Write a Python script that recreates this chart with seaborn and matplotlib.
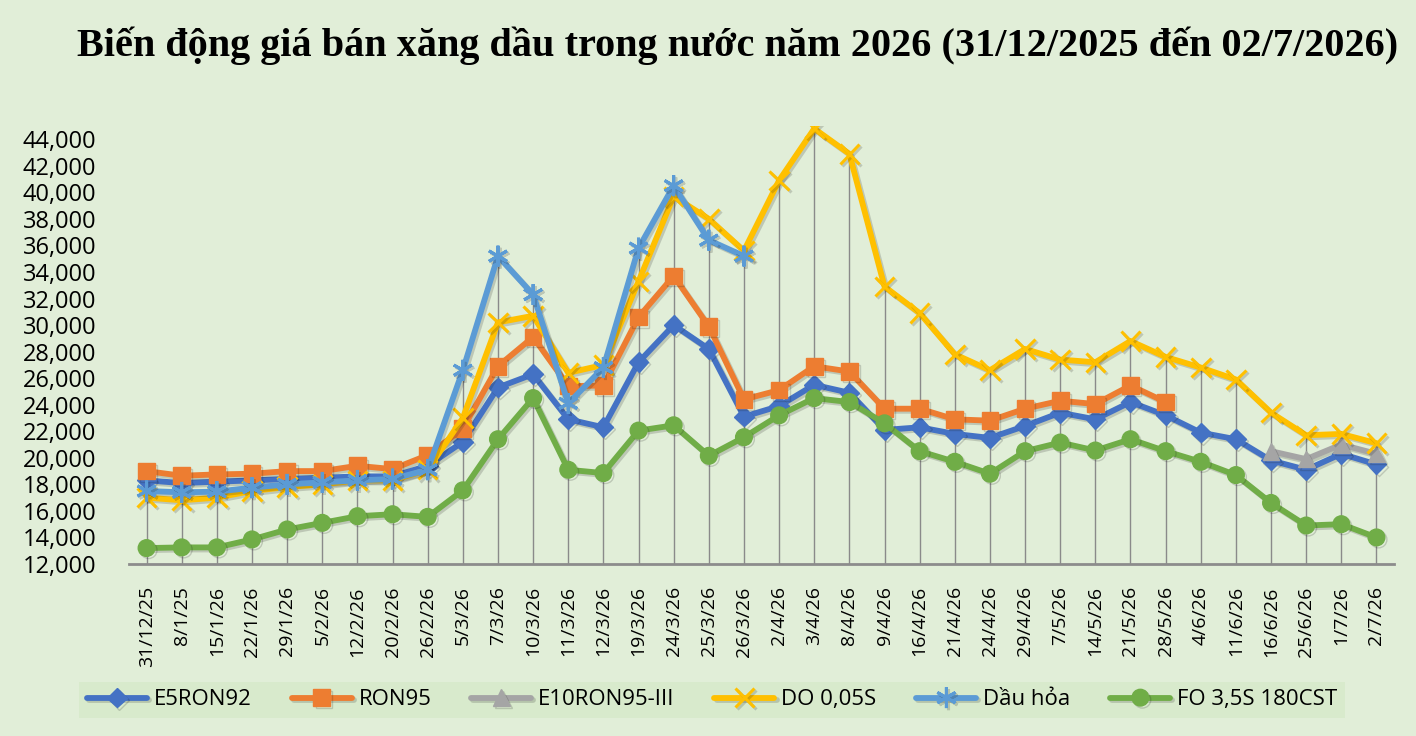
import numpy as np
import pandas as pd
import matplotlib
matplotlib.use("Agg")
import matplotlib.pyplot as plt
import matplotlib.patheffects as pe
import seaborn as sns

# Data (VND / litre)
dates = ["31/12/25", "8/1/25", "15/1/26", "22/1/26", "29/1/26", "5/2/26", "12/2/26",
         "20/2/26", "26/2/26", "5/3/26", "7/3/26", "10/3/26", "11/3/26", "12/3/26",
         "19/3/26", "24/3/26", "25/3/26", "26/3/26", "2/4/26", "3/4/26", "8/4/26",
         "9/4/26", "16/4/26", "21/4/26", "24/4/26", "29/4/26", "7/5/26", "14/5/26",
         "21/5/26", "28/5/26", "4/6/26", "11/6/26", "16/6/26", "25/6/26", "1/7/26", "2/7/26"]

e5ron92 = [18300, 18100, 18200, 18300, 18400, 18500, 18600, 18600, 19400, 21200,
           25300, 26300, 22900, 22300, 27200, 30000, 28200, 23100, 23900, 25500,
           24900, 22100, 22300, 21800, 21500, 22400, 23400, 22900, 24200, 23200,
           21900, 21400, 19800, 19100, 20300, 19500]
ron95 = [19000, 18650, 18750, 18800, 19000, 19000, 19400, 19150, 20200, 22200,
         26900, 29100, 25400, 25450, 30600, 33700, 29900, 24400, 25100, 26900,
         26500, 23700, 23700, 22900, 22800, 23700, 24300, 24050, 25450, 24200,
         np.nan, np.nan, np.nan, np.nan, np.nan, np.nan]
e10ron95 = [np.nan] * 32 + [20500, 19900, 21000, 20300]
do005s = [17000, 16800, 17000, 17500, 17800, 18000, 18300, 18300, 19100, 23000,
          30200, 30700, 26400, 27000, 33300, 39700, 38000, 35600, 40900, 44800,
          42900, 32900, 30900, 27800, 26600, 28200, 27400, 27200, 28800, 27600,
          26800, 25900, 23400, 21700, 21800, 21100]
dau_hoa = [17500, 17400, 17450, 17750, 18000, 18150, 18300, 18400, 19100, 26600,
           35200, 32300, 24100, 26800, 35800, 40500, 36400, 35200] + [np.nan] * 18
fo35s = [13200, 13250, 13250, 13850, 14600, 15100, 15600, 15750, 15550, 17550,
         21400, 24500, 19100, 18850, 22050, 22450, 20150, 21550, 23200, 24500,
         24200, 22600, 20500, 19700, 18800, 20500, 21150, 20550, 21400, 20500,
         19700, 18700, 16600, 14900, 15000, 14000]

names = ["E5RON92", "RON95", "E10RON95-III", "DO 0,05S", "Dầu hỏa", "FO 3,5S 180CST"]
series = [e5ron92, ron95, e10ron95, do005s, dau_hoa, fo35s]

df = pd.DataFrame({n: s for n, s in zip(names, series)})
df["x"] = np.arange(len(dates))

# Style
colors = ["#4472C4", "#ED7D31", "#A5A5A5", "#FFC000", "#5B9BD5", "#70AD47"]
markers = ["D", "s", "^", "x", (6, 2, 0), "o"]
msizes = [10, 12, 12, 14, 15, 12]
bg = "#e1eed8"

sns.set_theme(style="white")
plt.rcParams["font.family"] = ["Open Sans", "DejaVu Sans"]
plt.rcParams["text.color"] = "black"
plt.rcParams["xtick.color"] = "black"
plt.rcParams["ytick.color"] = "black"

fig = plt.figure(figsize=(14.16, 7.36), dpi=100)
fig.patch.set_facecolor(bg)
ax = fig.add_axes([0.0911, 0.2337, 0.8934, 0.5951])
ax.set_facecolor(bg)

# drop lines from axis to the highest value at each date
top = df[names].max(axis=1)
ax.vlines(df["x"], 12000, top, color="#8a8a8a", linewidth=1, zorder=1)

shadow = [pe.SimpleLineShadow(offset=(1.5, -1.5), alpha=0.18), pe.Normal()]
for i, n in enumerate(names):
    sns.lineplot(data=df, x="x", y=n, ax=ax, color=colors[i], marker=markers[i],
                 markersize=msizes[i], markeredgecolor=colors[i],
                 markeredgewidth=2.2 if i in (3, 4) else 1,
                 linewidth=4.2, label=n, errorbar=None, zorder=3 + i,
                 path_effects=shadow)

leg = ax.get_legend()
if leg is not None:
    leg.remove()
handles, labels = ax.get_legend_handles_labels()

ax.set_xlim(-0.5, len(dates) - 0.5)
ax.set_ylim(12000, 45000)
ax.set_yticks(range(12000, 44001, 2000))
ax.set_yticklabels([f"{v:,}" for v in range(12000, 44001, 2000)], fontsize=17)
ax.set_xticks(df["x"])
ax.set_xticklabels(dates, rotation=90, fontsize=14)
ax.tick_params(axis="y", length=0, pad=23.5)
ax.tick_params(axis="x", length=0, pad=16)
ax.set_xlabel("")
ax.set_ylabel("")
for s in ["top", "right", "left"]:
    ax.spines[s].set_visible(False)
ax.spines["bottom"].set_color("#8c8c8c")
ax.spines["bottom"].set_linewidth(2)

fig.text(0.521, 0.938, "Biến động giá bán xăng dầu trong nước năm 2026 (31/12/2025 đến 02/7/2026)",
         ha="center", va="center", fontsize=29, fontweight="bold", color="black",
         family=["Liberation Serif", "DejaVu Serif"])

fig.legend(handles, labels, loc="center", bbox_to_anchor=(0.503, 0.049), ncol=6,
           fontsize=16, frameon=True, facecolor="#d8eacc", edgecolor="none",
           fancybox=False, framealpha=1, handlelength=2.7, handletextpad=0.3,
           columnspacing=1.8, borderpad=0.35)

fig.savefig("out.png", dpi=100, facecolor=bg)
